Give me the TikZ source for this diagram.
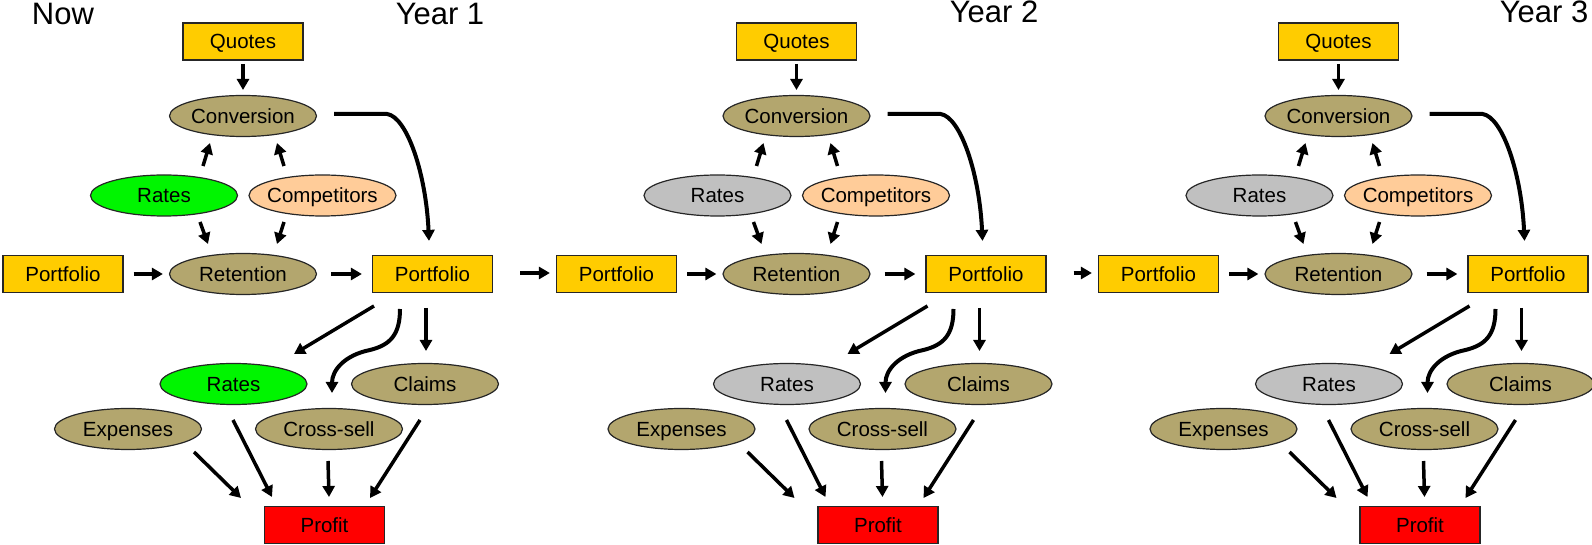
\documentclass[tikz,border=0pt]{standalone}
\usepackage{fontspec}
\setmainfont{Liberation Sans}
\usetikzlibrary{shapes.geometric,arrows.meta,calc}
\definecolor{ylw}{RGB}{255,204,0}
\definecolor{olive}{RGB}{179,166,110}
\definecolor{peach}{RGB}{255,204,153}
\definecolor{grn}{RGB}{0,245,0}
\definecolor{gry}{RGB}{192,192,192}
\definecolor{rd}{RGB}{255,0,0}
\newcommand\zb[1]{\makebox[0pt]{#1}}
\tikzset{
  box/.style={draw=black!85, line width=0.6pt, fill=ylw, rectangle, minimum width=60pt, minimum height=18.5pt, inner sep=0pt, text height=0.72em, text depth=0pt, font=\fontsize{10.25}{12}\selectfont},
  oval/.style={draw=black!85, line width=0.6pt, fill=olive, ellipse, minimum width=73.5pt, minimum height=20.5pt, inner sep=0pt, text height=0.72em, text depth=0pt, font=\fontsize{10.25}{12}\selectfont},
  title/.style={inner sep=0pt, text height=0.72em, text depth=0pt, font=\fontsize{15.5}{18}\selectfont},
  arr/.style={line width=1.75pt, -{Triangle[length=5.5pt,width=6pt]}},
  carr/.style={line width=2pt, -{Triangle[length=5.5pt,width=6pt]}},
}
\newcommand\yearpanel[3]{%
  \node[box] (#1q) at ({243+#2},41.5) {Quotes};
  \node[oval] (#1conv) at ({243+#2},116) {\zb{Conversion}};
  \node[oval,fill=#3] (#1ra) at ({164+#2},195.5) {\zb{Rates}};
  \node[oval,fill=peach] (#1comp) at ({322.5+#2},195.5) {\zb{Competitors}};
  \node[box] (#1pl) at ({63+#2},274) {Portfolio};
  \node[oval] (#1ret) at ({243+#2},274) {\zb{Retention}};
  \node[box] (#1pr) at ({432.5+#2},274) {Portfolio};
  \node[oval,fill=#3] (#1rb) at ({233.5+#2},384) {\zb{Rates}};
  \node[oval] (#1cl) at ({425+#2},384) {\zb{Claims}};
  \node[oval] (#1ex) at ({128+#2},429) {\zb{Expenses}};
  \node[oval] (#1cs) at ({329+#2},429) {\zb{Cross-sell}};
  \node[box,fill=rd] (#1pf) at ({324.5+#2},525) {Profit};
  \draw[arr] ($(#1q)+(0,22.5)$) -- ($(#1conv)+(0,-26)$);
  \draw[arr] ($(#1ra)+(39,-29.5)$) -- ($(#1conv)+(-33,27)$);
  \draw[arr] ($(#1comp)+(-38.5,-29.5)$) -- ($(#1conv)+(34,27)$);
  \draw[arr] ($(#1ra)+(36,26.5)$) -- ($(#1ret)+(-35,-30)$);
  \draw[arr] ($(#1comp)+(-38.5,26.5)$) -- ($(#1ret)+(34,-30)$);
  \draw[arr] ($(#1pl.east)+(10,0)$) -- ($(#1ret.west)+(-6,0)$);
  \draw[arr] ($(#1ret.east)+(14,0)$) -- ($(#1pr.west)+(-10,0)$);
  \draw[carr] ($(#1conv.east)+(17,-2)$) -- ($(#1conv.east)+(70,-2)$)
     .. controls +(20,3) and +(-3,-67) .. ($(#1pr.north)+(-3.5,-14)$);
  \draw[arr] ($(#1pr)+(-58.5,32)$) -- ($(#1rb)+(60.5,-30)$);
  \draw[carr] ($(#1pr)+(-32.5,35)$) .. controls +(0,26) and +(20,-5) .. ($(#1pr)+(-62.5,76)$)
     .. controls +(-25,5) and +(0,-23) .. ($(#1cs)+(3,-36)$);
  \draw[arr] ($(#1pr)+(-6.5,34)$) -- ($(#1cl)+(1,-33)$);
  \draw[arr] ($(#1ex)+(66,23)$) -- ($(#1pf)+(-83.5,-27)$);
  \draw[arr] ($(#1rb)+(-0.5,36)$) -- ($(#1pf)+(-52.5,-28)$);
  \draw[arr] ($(#1cs)+(-1,32)$) -- ($(#1pf)+(4.5,-28)$);
  \draw[arr] ($(#1cl)+(-5,36)$) -- ($(#1pf)+(45.5,-27)$);
}
\begin{document}
\begin{tikzpicture}[x=0.5pt,y=-0.5pt]
\useasboundingbox (0,0) rectangle (1592,545);
\yearpanel{a}{0}{grn}
\yearpanel{b}{553.5}{gry}
\yearpanel{c}{1095.5}{gry}
\draw[arr] ($(apr.east)+(27,-1)$) -- ($(bpl.west)+(-6,-1)$);
\draw[arr] ($(bpr.east)+(27,-1)$) -- ($(cpl.west)+(-6,-1)$);
\node[title] (now) at (63,17) {Now};
\node[title] (y1) at (440,17.5) {Year 1};
\node[title] (y2) at (994,15.5) {Year 2};
\node[title] (y3) at (1544,15.5) {Year 3};
\end{tikzpicture}
\end{document}
